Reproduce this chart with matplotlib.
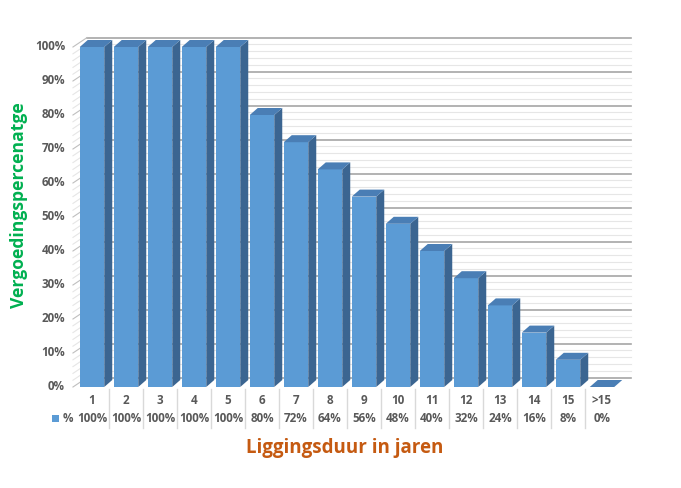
import matplotlib
matplotlib.use('Agg')
import matplotlib.pyplot as plt
from matplotlib.patches import Polygon, Rectangle

# data
categories = ['1', '2', '3', '4', '5', '6', '7', '8', '9', '10',
              '11', '12', '13', '14', '15', '>15']
percent = [100, 100, 100, 100, 100, 80, 72, 64, 56, 48, 40, 32, 24, 16, 8, 0]
value_labels = ['100%', '100%', '100%', '100%', '100%', '80%', '72%', '64%',
                '56%', '48%', '40%', '32%', '24%', '16%', '8%', '0%']
y_ticks = list(range(0, 101, 10))

FRONT = '#5B9BD5'
TOP = '#4A7EB5'
SIDE = '#3B6591'
TXT = '#595959'
FONT = 'Open Sans'
FS = 8.4

W, H = 681, 488
fig = plt.figure(figsize=(W / 100, H / 100), dpi=100, facecolor='white')

# axes = front plane of the 3D chart (pixels: x 75..619, y 47..387)
left, right, top, bottom = 75, 619, 47, 387
ax = fig.add_axes([left / W, 1 - bottom / H, (right - left) / W, (bottom - top) / H])
ax.set_xlim(-0.5, len(categories) - 0.5)
ax.set_ylim(0, 100)
ax.axis('off')

px_x = (len(categories)) / (right - left)   # data units per pixel
px_y = 100 / (bottom - top)

# depth offsets
wall_dx, wall_dy = 12 * px_x, 9.4 * px_y
bar_dx, bar_dy = 8 * px_x, 7 * px_y
bar_w = 24.5 * px_x

# back wall gridlines + left side wall lines
x0, x1 = -0.5, len(categories) - 0.5
for v in range(0, 101, 2):
    major = v % 10 == 0
    col = '#A6A6A6' if major else '#E6E6E6'
    lw = 1.2 if major else 0.8
    ax.plot([x0 + wall_dx, x1 + wall_dx], [v + wall_dy, v + wall_dy],
            color=col, lw=lw, zorder=1, clip_on=False)
    ax.plot([x0 - 0.06, x0 + wall_dx], [v, v + wall_dy],
            color='#BFBFBF' if major else '#E6E6E6', lw=0.8, zorder=1,
            clip_on=False)

# bars
for i, p in enumerate(percent):
    xl = i - bar_w / 2
    xr = i + bar_w / 2
    ax.add_patch(Rectangle((xl, 0), bar_w, p, facecolor=FRONT,
                           edgecolor='none', zorder=3, clip_on=False))
    ax.add_patch(Polygon([(xr, 0), (xr + bar_dx, bar_dy), (xr + bar_dx, p + bar_dy),
                          (xr, p)], closed=True, facecolor=SIDE,
                         edgecolor='none', zorder=3, clip_on=False))
    ax.add_patch(Polygon([(xl, p), (xr, p), (xr + bar_dx, p + bar_dy),
                          (xl + bar_dx, p + bar_dy)], closed=True,
                         facecolor=TOP, edgecolor='none', zorder=4,
                         clip_on=False))

# y tick labels
for v in y_ticks:
    ax.text(-0.5 - 10 * px_x, v, f'{v}%', ha='right', va='center',
            fontsize=FS, fontweight='bold', color=TXT, family=FONT)

# data table under the chart
trans = ax.get_xaxis_transform()
ah = bottom - top
row1 = -(401 - bottom) / ah
row2 = -(418 - bottom) / ah
for i, (c, lab) in enumerate(zip(categories, value_labels)):
    ax.text(i, row1, c, transform=trans, ha='center', va='center',
            fontsize=FS, fontweight='bold', color=TXT, family=FONT)
    ax.text(i, row2, lab, transform=trans, ha='center', va='center',
            fontsize=FS, fontweight='bold', color=TXT, family=FONT)
for i in range(1, len(categories)):
    ax.plot([i - 0.5, i - 0.5], [-(389 - bottom) / ah, -(428 - bottom) / ah],
            transform=trans, color='#D9D9D9', lw=1, clip_on=False)

# legend key of the table
ax.add_patch(Rectangle((-0.5 - 23 * px_x, row2 - 3.5 / ah), 7 * px_x, 7 / ah,
                       transform=trans, facecolor=FRONT, edgecolor='none',
                       clip_on=False))
ax.text(-0.5 - 7.5 * px_x, row2, '%', transform=trans, ha='center', va='center',
        fontsize=FS, fontweight='bold', color=TXT, family=FONT)

# axis titles
fig.text(345 / W, 1 - 448 / H, 'Liggingsduur in jaren', ha='center', va='center',
         fontsize=13.5, fontweight='bold', color='#C55A11', family=FONT)
fig.text(19 / W, 1 - 205 / H, 'Vergoedingspercenatge', ha='center', va='center',
         rotation=90, fontsize=12.6, fontweight='bold', color='#00B050', family=FONT)

fig.savefig('out.png', dpi=100, facecolor='white')
